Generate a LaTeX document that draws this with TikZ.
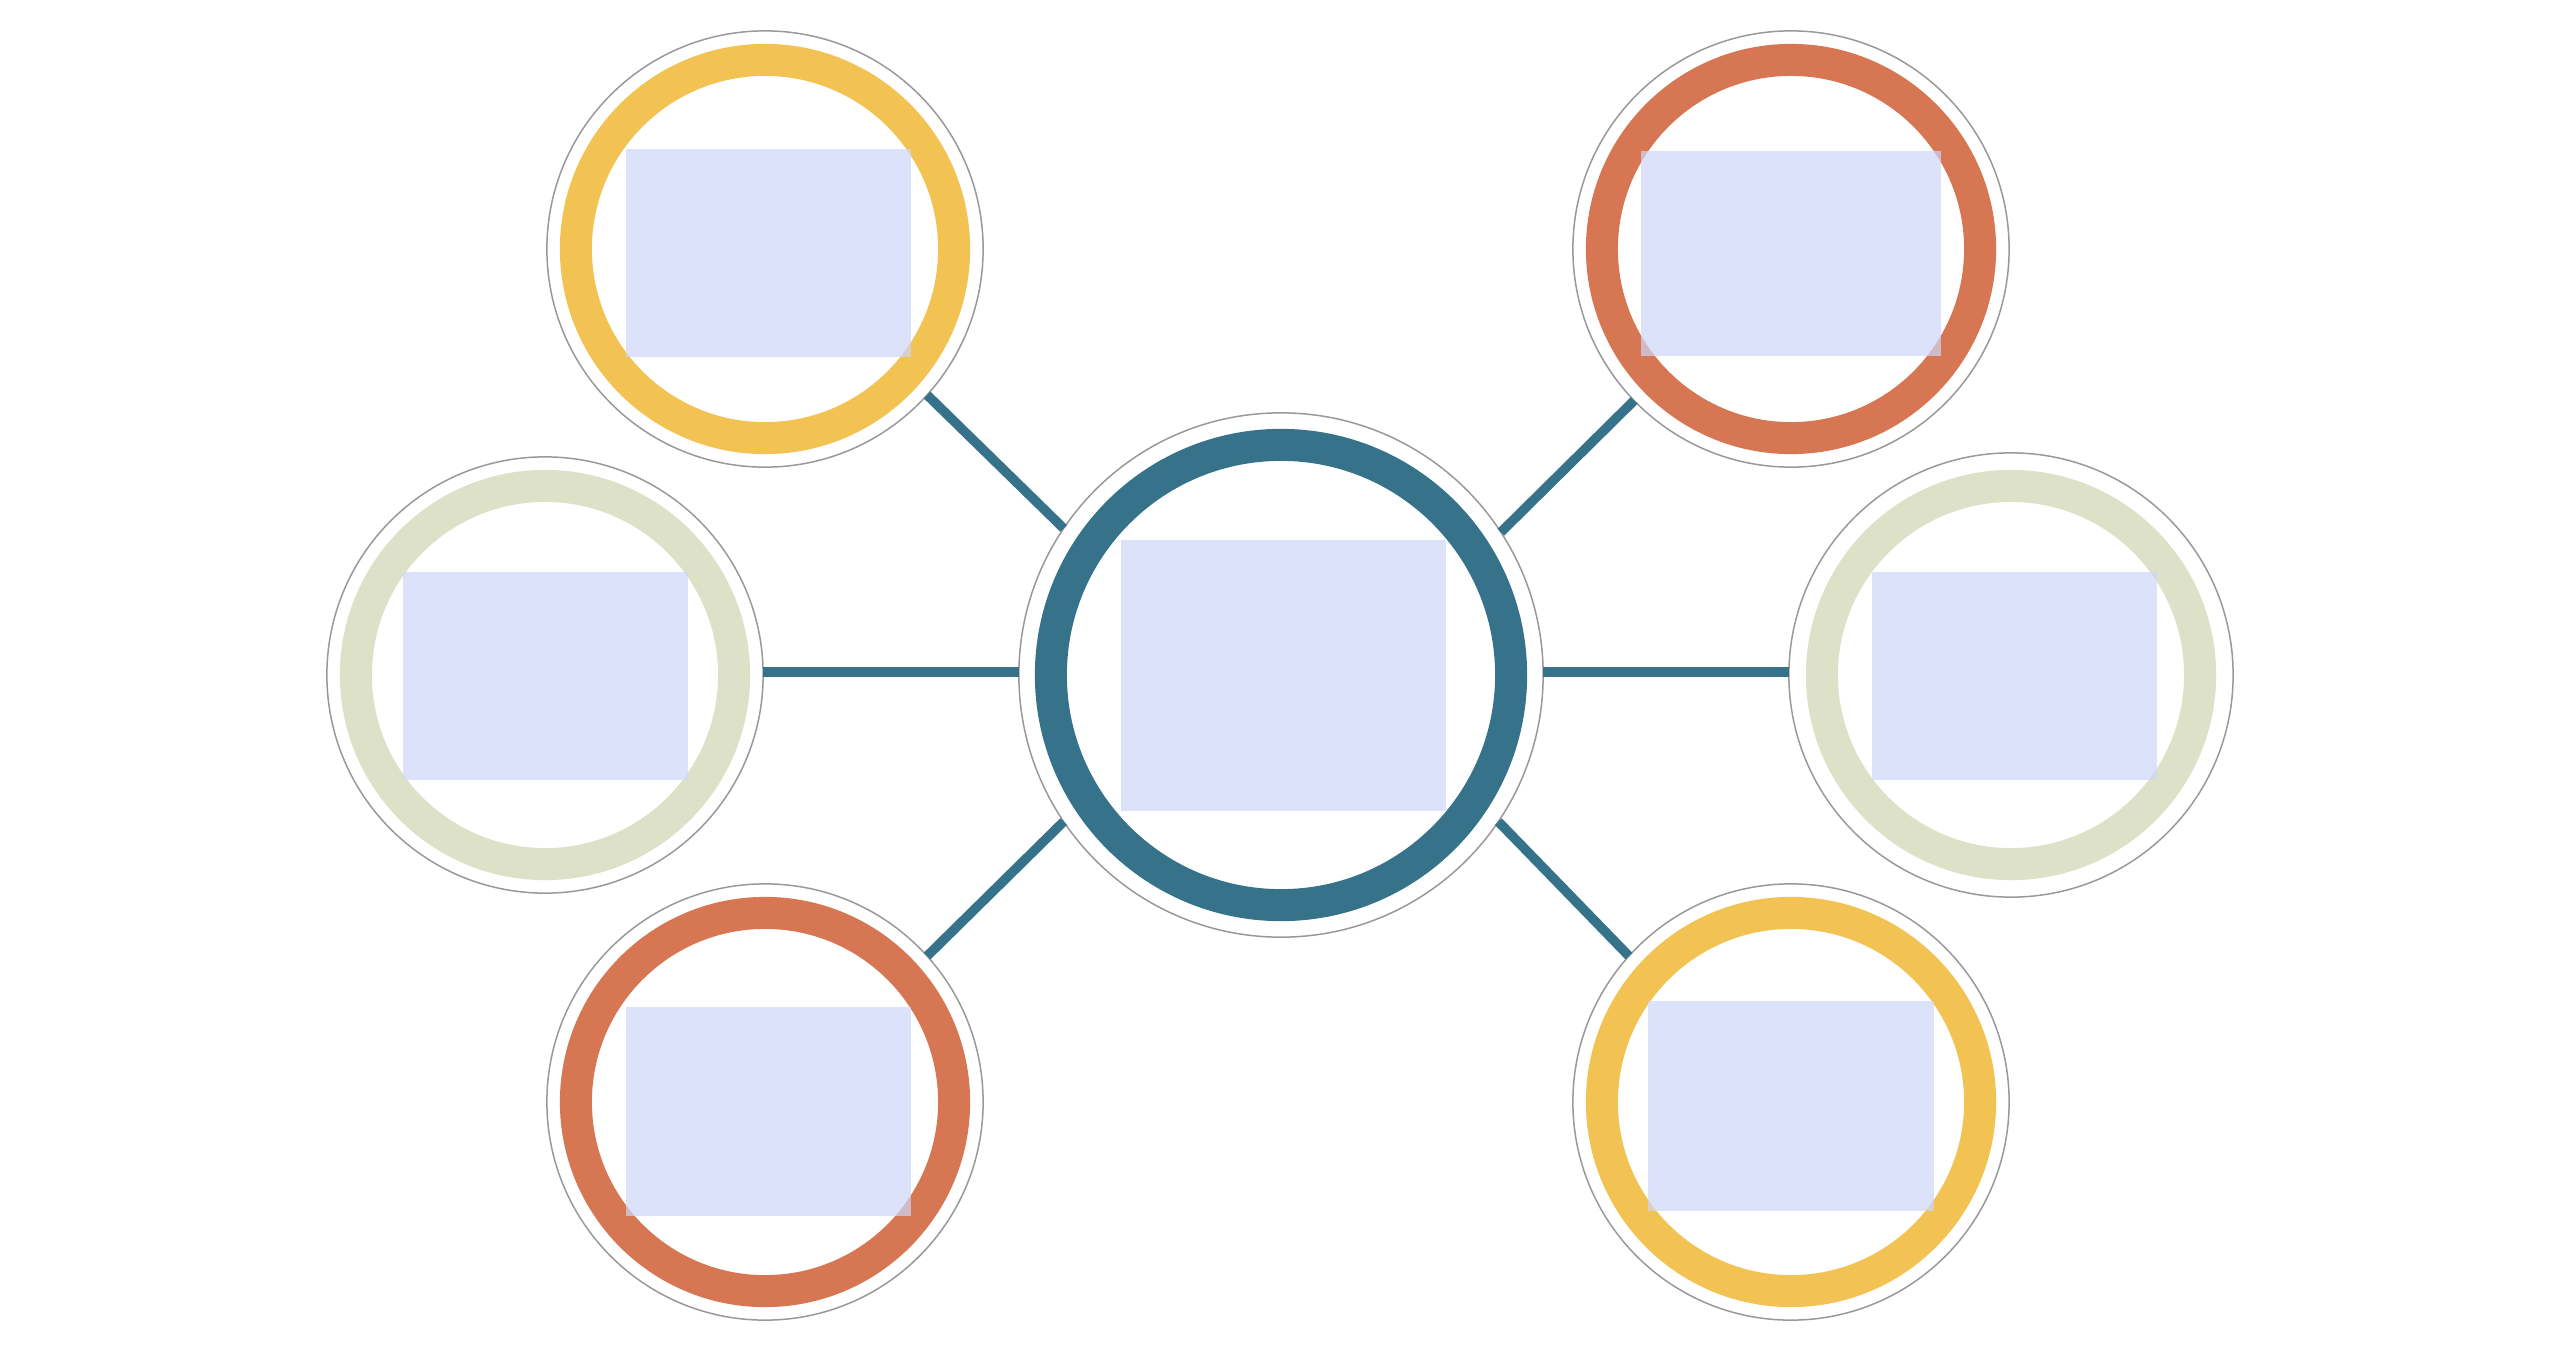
\documentclass[tikz,border=0pt]{standalone}
\definecolor{teal}{RGB}{54,115,139}
\definecolor{ringyellow}{RGB}{242,194,82}
\definecolor{ringorange}{RGB}{215,118,83}
\definecolor{ringsage}{RGB}{220,225,199}
\definecolor{boxblue}{RGB}{206,215,249}
\definecolor{rimgrey}{RGB}{153,153,153}
\tikzset{
  rim/.style={circle, draw=rimgrey, line width=0.015cm, inner sep=0pt, outer sep=0pt, minimum size=#1},
  ring/.style={circle, draw=#1, line width=0.32cm, inner sep=0pt, minimum size=3.78cm},
  bigring/.style={circle, draw=teal, line width=0.32cm, inner sep=0pt, minimum size=4.60cm},
  link/.style={draw=teal, line width=0.095cm},
  placeholder/.style={rectangle, fill=boxblue, fill opacity=0.7, inner sep=0pt, outer sep=0pt}
}
\begin{document}
\begin{tikzpicture}[x=0.01cm, y=-0.01cm]
\useasboundingbox (0,0) rectangle (2560,1357);
\fill[white] (0,0) rectangle (2560,1357);

% outer rims (nodes)
\node (c)  [rim=5.24cm] at (1281,675) {};
\node (tl) [rim=4.36cm] at (765,249) {};
\node (tr) [rim=4.36cm] at (1791,249) {};
\node (l)  [rim=4.36cm] at (545,675) {};
\node (r)  [rim=4.44cm] at (2011,675) {};
\node (bl) [rim=4.36cm] at (765,1102) {};
\node (br) [rim=4.36cm] at (1791,1102) {};

% connectors
\draw[link] (c.146) -- (tl.-42);
\draw[link] (c.33) -- (tr.224);
\draw[link] (c.214) -- (bl.42);
\draw[link] (c.-34) -- (br.138);
\draw[link] ([yshift=0.03cm]c.west) -- ([yshift=0.03cm]l.east);
\draw[link] ([yshift=0.03cm]c.east) -- ([yshift=0.03cm]r.west);

% coloured rings
\node (cring)  [bigring] at (c) {};
\node (tlring) [ring=ringyellow] at (tl) {};
\node (trring) [ring=ringorange] at (tr) {};
\node (lring)  [ring=ringsage] at (l) {};
\node (rring)  [ring=ringsage] at (r) {};
\node (blring) [ring=ringorange] at (bl) {};
\node (brring) [ring=ringyellow] at (br) {};

% placeholder boxes
\node (cbox)  [placeholder, minimum width=3.25cm, minimum height=2.71cm] at (1283.5,675.5) {};
\node (tlbox) [placeholder, minimum width=2.85cm, minimum height=2.08cm] at (768.5,253) {};
\node (trbox) [placeholder, minimum width=3.00cm, minimum height=2.05cm] at (1791,253.5) {};
\node (lbox)  [placeholder, minimum width=2.85cm, minimum height=2.08cm] at (545.5,676) {};
\node (rbox)  [placeholder, minimum width=2.85cm, minimum height=2.08cm] at (2014.5,676) {};
\node (blbox) [placeholder, minimum width=2.85cm, minimum height=2.09cm] at (768.5,1111.5) {};
\node (brbox) [placeholder, minimum width=2.86cm, minimum height=2.10cm] at (1791,1106) {};
\end{tikzpicture}
\end{document}
